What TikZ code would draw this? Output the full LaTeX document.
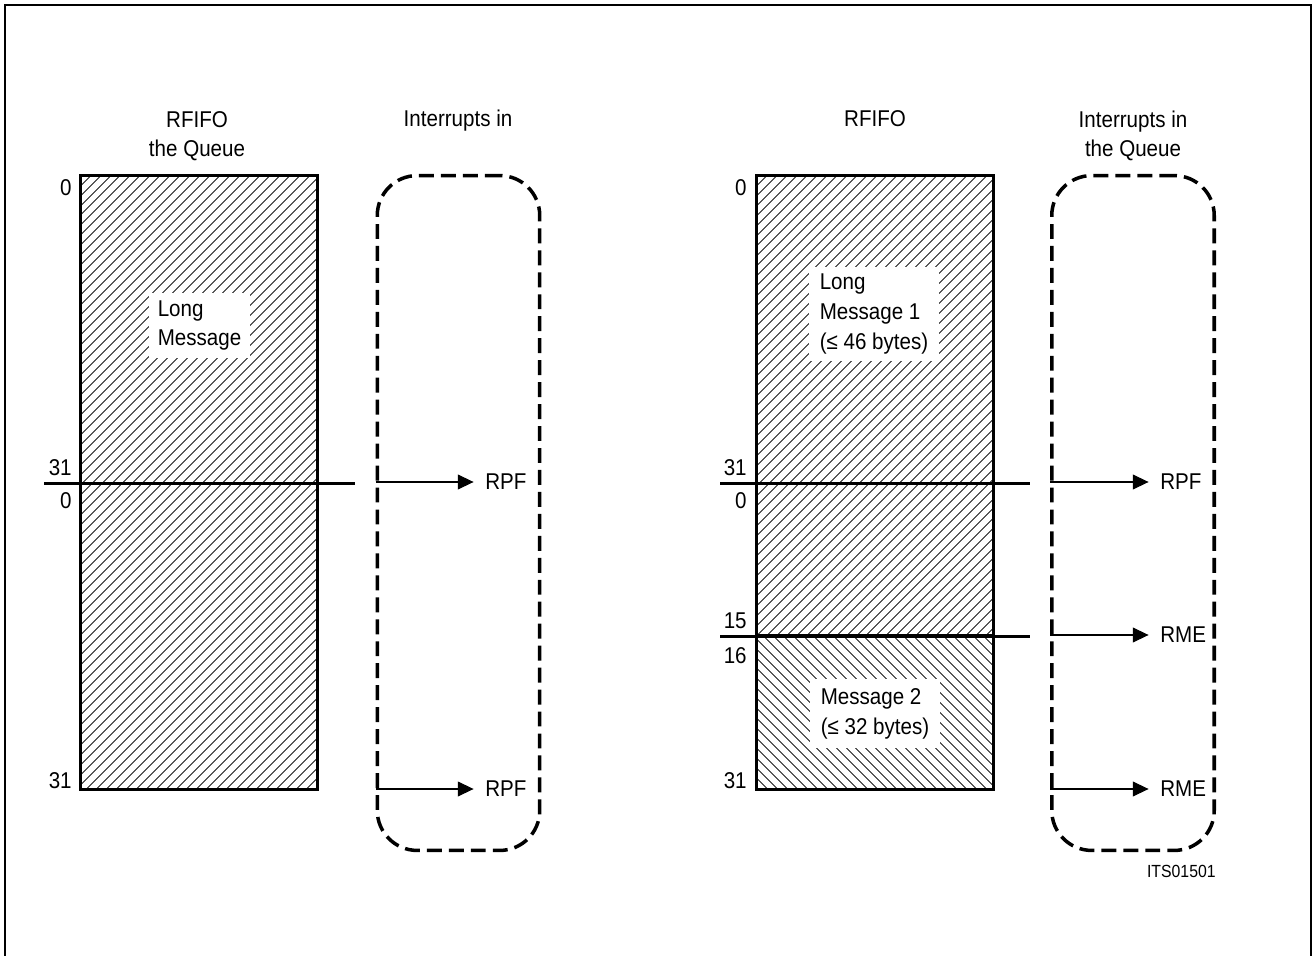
\documentclass[tikz,border=0pt]{standalone}
\usepackage{fontspec}
\setmainfont{Liberation Sans}[FakeStretch=0.9]
\usetikzlibrary{arrows.meta, patterns.meta}

\begin{document}
\begin{tikzpicture}[
  x=0.02cm, y=-0.02cm,
  font=\fontsize{13}{17}\selectfont,
  % Hatched FIFO block; hatch angle supplied per node as fifo=<angle>
  fifo/.style={
    rectangle, draw=black, line width=1.7pt, inner sep=0pt,
    pattern={Lines[angle=#1, distance=4pt, line width=0.55pt]},
    minimum width=4.74cm
  },
  queue/.style={
    rectangle, rounded corners=0.8cm,
    draw=black, line width=2pt, dash pattern=on 8.5pt off 4pt,
    minimum width=3.25cm, minimum height=13.5cm
  },
  msg/.style={fill=white, align=left, inner xsep=5pt, inner ysep=4pt},
  title/.style={anchor=base, align=center, inner sep=0pt},
  num/.style={anchor=base east, inner sep=0pt},
  irq/.style={anchor=west, inner sep=0pt},
  arr/.style={-{Triangle[length=9pt,width=8.5pt]}, line width=0.6pt, shorten >=6.5pt},
]
\useasboundingbox (0,0) rectangle (1316,956);

%% ── Frame ─────────────────────────────────────────────────────────────────
\draw[line width=0.8pt] (5,956) -- (5,5) -- (1311,5) -- (1311,956);

%% ── Left: one long message ────────────────────────────────────────────────
\node[title] (tfifoA) at (197,157) {RFIFO\\the Queue};
\node[title] (tirqA)  at (458,127) {Interrupts in};

\node[fifo=45, minimum height=12.3cm] (fifoA) at (199,482.5) {};
\fill (44,481.5) rectangle (355,484.5);   % word boundary 31 | 0

\node[msg] (longA) at (199.5,325.5) {Long\\Message};

\node[num] (nA0)  at (72,196) {0};
\node[num] (nA31) at (72,475) {31};
\node[num] (nB0)  at (72,508) {0};
\node[num] (nB31) at (72,788) {31};

\node[queue] (qA) at (458.5,513) {};
\node[irq] (rpfA1) at (485,482) {RPF};
\node[irq] (rpfA2) at (485,789) {RPF};

%% ── Right: long message followed by a short one ───────────────────────────
\node[title] (tfifoB) at (875,127) {RFIFO};
\node[title] (tirqB)  at (1133,157) {Interrupts in\\the Queue};

\node[fifo=45,  minimum height=9.22cm] (fifoB1) at (875,405.5) {};
\node[fifo=-45, minimum height=3.08cm] (fifoB2) at (875,713) {};
\fill (720,481.5) rectangle (1030,484.5);
\fill (720,634.5) rectangle (1030,637.5);

\node[msg, inner xsep=6pt] (longB) at (874,314) {Long\\Message 1\\(≤ 46 bytes)};
\node[msg, inner xsep=6pt, inner ysep=5pt] (shortB) at (875,713.5) {Message 2\\(≤ 32 bytes)};

\node[num] (mA0)  at (747,196) {0};
\node[num] (mA31) at (747,475) {31};
\node[num] (mB0)  at (747,508) {0};
\node[num] (mB15) at (747,628) {15};
\node[num] (mC16) at (747,663) {16};
\node[num] (mC31) at (747,788) {31};

\node[queue] (qB) at (1133,513) {};
\node[irq] (rpfB)  at (1160,482) {RPF};
\node[irq] (rmeB1) at (1160,635) {RME};
\node[irq] (rmeB2) at (1160,789) {RME};

\node[anchor=base east, inner sep=0pt, font=\fontsize{10}{12}\selectfont] (its) at (1216,877) {ITS01501};

%% ── Arrows ────────────────────────────────────────────────────────────────
\draw[arr] (qA.west |- rpfA1) -- (rpfA1.west);
\draw[arr] (qA.west |- rpfA2) -- (rpfA2.west);
\draw[arr] (qB.west |- rpfB)  -- (rpfB.west);
\draw[arr] (qB.west |- rmeB1) -- (rmeB1.west);
\draw[arr] (qB.west |- rmeB2) -- (rmeB2.west);

\end{tikzpicture}
\end{document}
